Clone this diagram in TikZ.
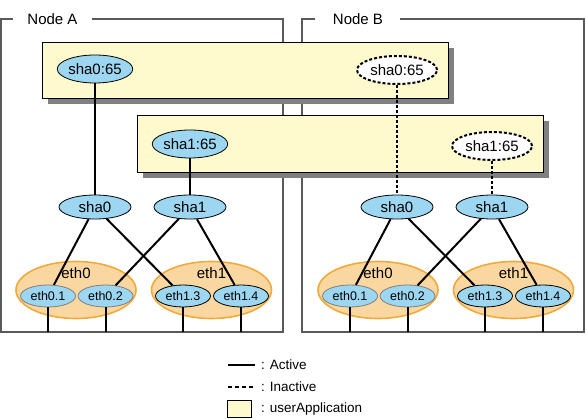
\documentclass[tikz,border=0pt]{standalone}
\usepackage{fontspec}
\setmainfont{Liberation Sans}
\usepackage{tikz}
\usetikzlibrary{shapes, positioning, calc}
\definecolor{appyellow}{RGB}{255,250,205}
\definecolor{shablue}{RGB}{156,214,240}
\definecolor{ethorange}{RGB}{250,215,160}
\definecolor{ethborder}{RGB}{240,170,60}
\definecolor{framegray}{RGB}{90,90,90}
\definecolor{shadowgray}{RGB}{128,128,128}

\begin{document}
\begin{tikzpicture}[x=1pt, y=-1pt,
	every node/.style={font=\fontsize{15}{17}\selectfont},
	sha/.style={ellipse, draw=black, fill=shablue, line width=0.8pt, inner sep=0pt, minimum width=72pt, minimum height=28pt},
	shaoff/.style={ellipse, draw=black, fill=white, line width=2pt, dash pattern=on 3pt off 2pt, inner sep=0pt, minimum width=80pt, minimum height=28pt},
	shaif/.style={sha, minimum height=24pt},
	ethgrp/.style={ellipse, draw=ethborder, fill=ethorange, line width=1.6pt, inner sep=0pt, minimum width=120pt, minimum height=57pt},
	ethif/.style={ellipse, draw=black, fill=shablue, line width=0.8pt, inner sep=0pt, minimum width=55pt, minimum height=22pt, font=\fontsize{12.5}{14}\selectfont},
	active/.style={line width=2pt},
	inactive/.style={line width=2pt, dash pattern=on 3pt off 2pt},
	legend/.style={anchor=west, inner xsep=0pt, font=\fontsize{13.5}{15}\selectfont}]
	\useasboundingbox (0,0) rectangle (586,419);
	\coordinate (base) at (0,332);
	
	% node frames
	\draw[framegray, line width=1.3pt] (13,19) -- (1,19) -- (1,332) -- (283,332) -- (283,19) -- (92,19);
	\node (nodea) at (52.5,19) {Node A};
	\draw[framegray, line width=1.3pt] (315,19) -- (302,19) -- (302,332) -- (584,332) -- (584,19) -- (400,19);
	\node (nodeb) at (358,19) {Node B};
	
	% userApplication boxes
	\fill[shadowgray] (48,48) rectangle (454,104);
	\draw[fill=appyellow] (42,42) rectangle (448,98);
	\fill[shadowgray] (143,121) rectangle (549,178);
	\draw[fill=appyellow] (137,115) rectangle (543,172);
	
	\node[sha] (apa0) at (95,69) {sha0:65};
	\node[shaoff] (apb0) at (397,70) {sha0:65};
	\node[sha] (apa1) at (190,144) {sha1:65};
	\node[shaoff] (apb1) at (492,146) {sha1:65};
	
	% Node A
	\node[shaif] (shaa0) at (95,207) {sha0};
	\node[shaif] (shaa1) at (190,207) {sha1};
	\node[ethgrp] (etha0) at (76,290) {};
	\node[ethgrp] (etha1) at (211.5,290) {};
	\node (etha0lbl) at (76,273) {eth0};
	\node (etha1lbl) at (211.5,273) {eth1};
	\node[ethif, draw=gray] (etha01) at (48,296) {eth0.1};
	\node[ethif, draw=gray] (etha02) at (105.5,296) {eth0.2};
	\node[ethif] (etha13) at (183,296) {eth1.3};
	\node[ethif] (etha14) at (241,296) {eth1.4};
	
	% Node B
	\node[shaif] (shab0) at (397,207) {sha0};
	\node[shaif] (shab1) at (492,207) {sha1};
	\node[ethgrp] (ethb0) at (378,290) {};
	\node[ethgrp] (ethb1) at (513.5,290) {};
	\node (ethb0lbl) at (378,273) {eth0};
	\node (ethb1lbl) at (513.5,273) {eth1};
	\node[ethif, draw=gray] (ethb01) at (350,296) {eth0.1};
	\node[ethif, draw=gray] (ethb02) at (407.5,296) {eth0.2};
	\node[ethif] (ethb13) at (485,296) {eth1.3};
	\node[ethif] (ethb14) at (543,296) {eth1.4};
	
	\draw[active] (apa0) -- (shaa0);
	\draw[active] (apa1) -- (shaa1);
	\draw[inactive] (apb0) -- (shab0);
	\draw[inactive] (apb1) -- (shab1);
	
	\draw[active] (shaa0) -- (etha01);
	\draw[active] (shaa0) -- (etha13);
	\draw[active] (shaa1) -- (etha02);
	\draw[active] (shaa1) -- (etha14);
	\draw[active] (shab0) -- (ethb01);
	\draw[active] (shab0) -- (ethb13);
	\draw[active] (shab1) -- (ethb02);
	\draw[active] (shab1) -- (ethb14);
	
	\draw[active] (etha01) -- (etha01 |- base);
	\draw[active] (etha02) -- (etha02 |- base);
	\draw[active] (etha13) -- (etha13 |- base);
	\draw[active] (etha14) -- (etha14 |- base);
	\draw[active] (ethb01) -- (ethb01 |- base);
	\draw[active] (ethb02) -- (ethb02 |- base);
	\draw[active] (ethb13) -- (ethb13 |- base);
	\draw[active] (ethb14) -- (ethb14 |- base);
	
	% legend
	\coordinate (lgact1) at (228,365);
	\coordinate (lgact2) at (255,365);
	\coordinate (lginact1) at (228,387);
	\coordinate (lginact2) at (255,387);
	\draw[line width=1.5pt] (lgact1) -- (lgact2);
	\draw[line width=1.5pt, dash pattern=on 4pt off 3pt] (lginact1) -- (lginact2);
	\draw[fill=appyellow] (227,400) rectangle (251,417);
	\node[legend] (lgact) at (261,365) {: Active};
	\node[legend] (lginact) at (261,387) {: Inactive};
	\node[legend] (lgapp) at (261,409) {: userApplication};
\end{tikzpicture}
\end{document}
